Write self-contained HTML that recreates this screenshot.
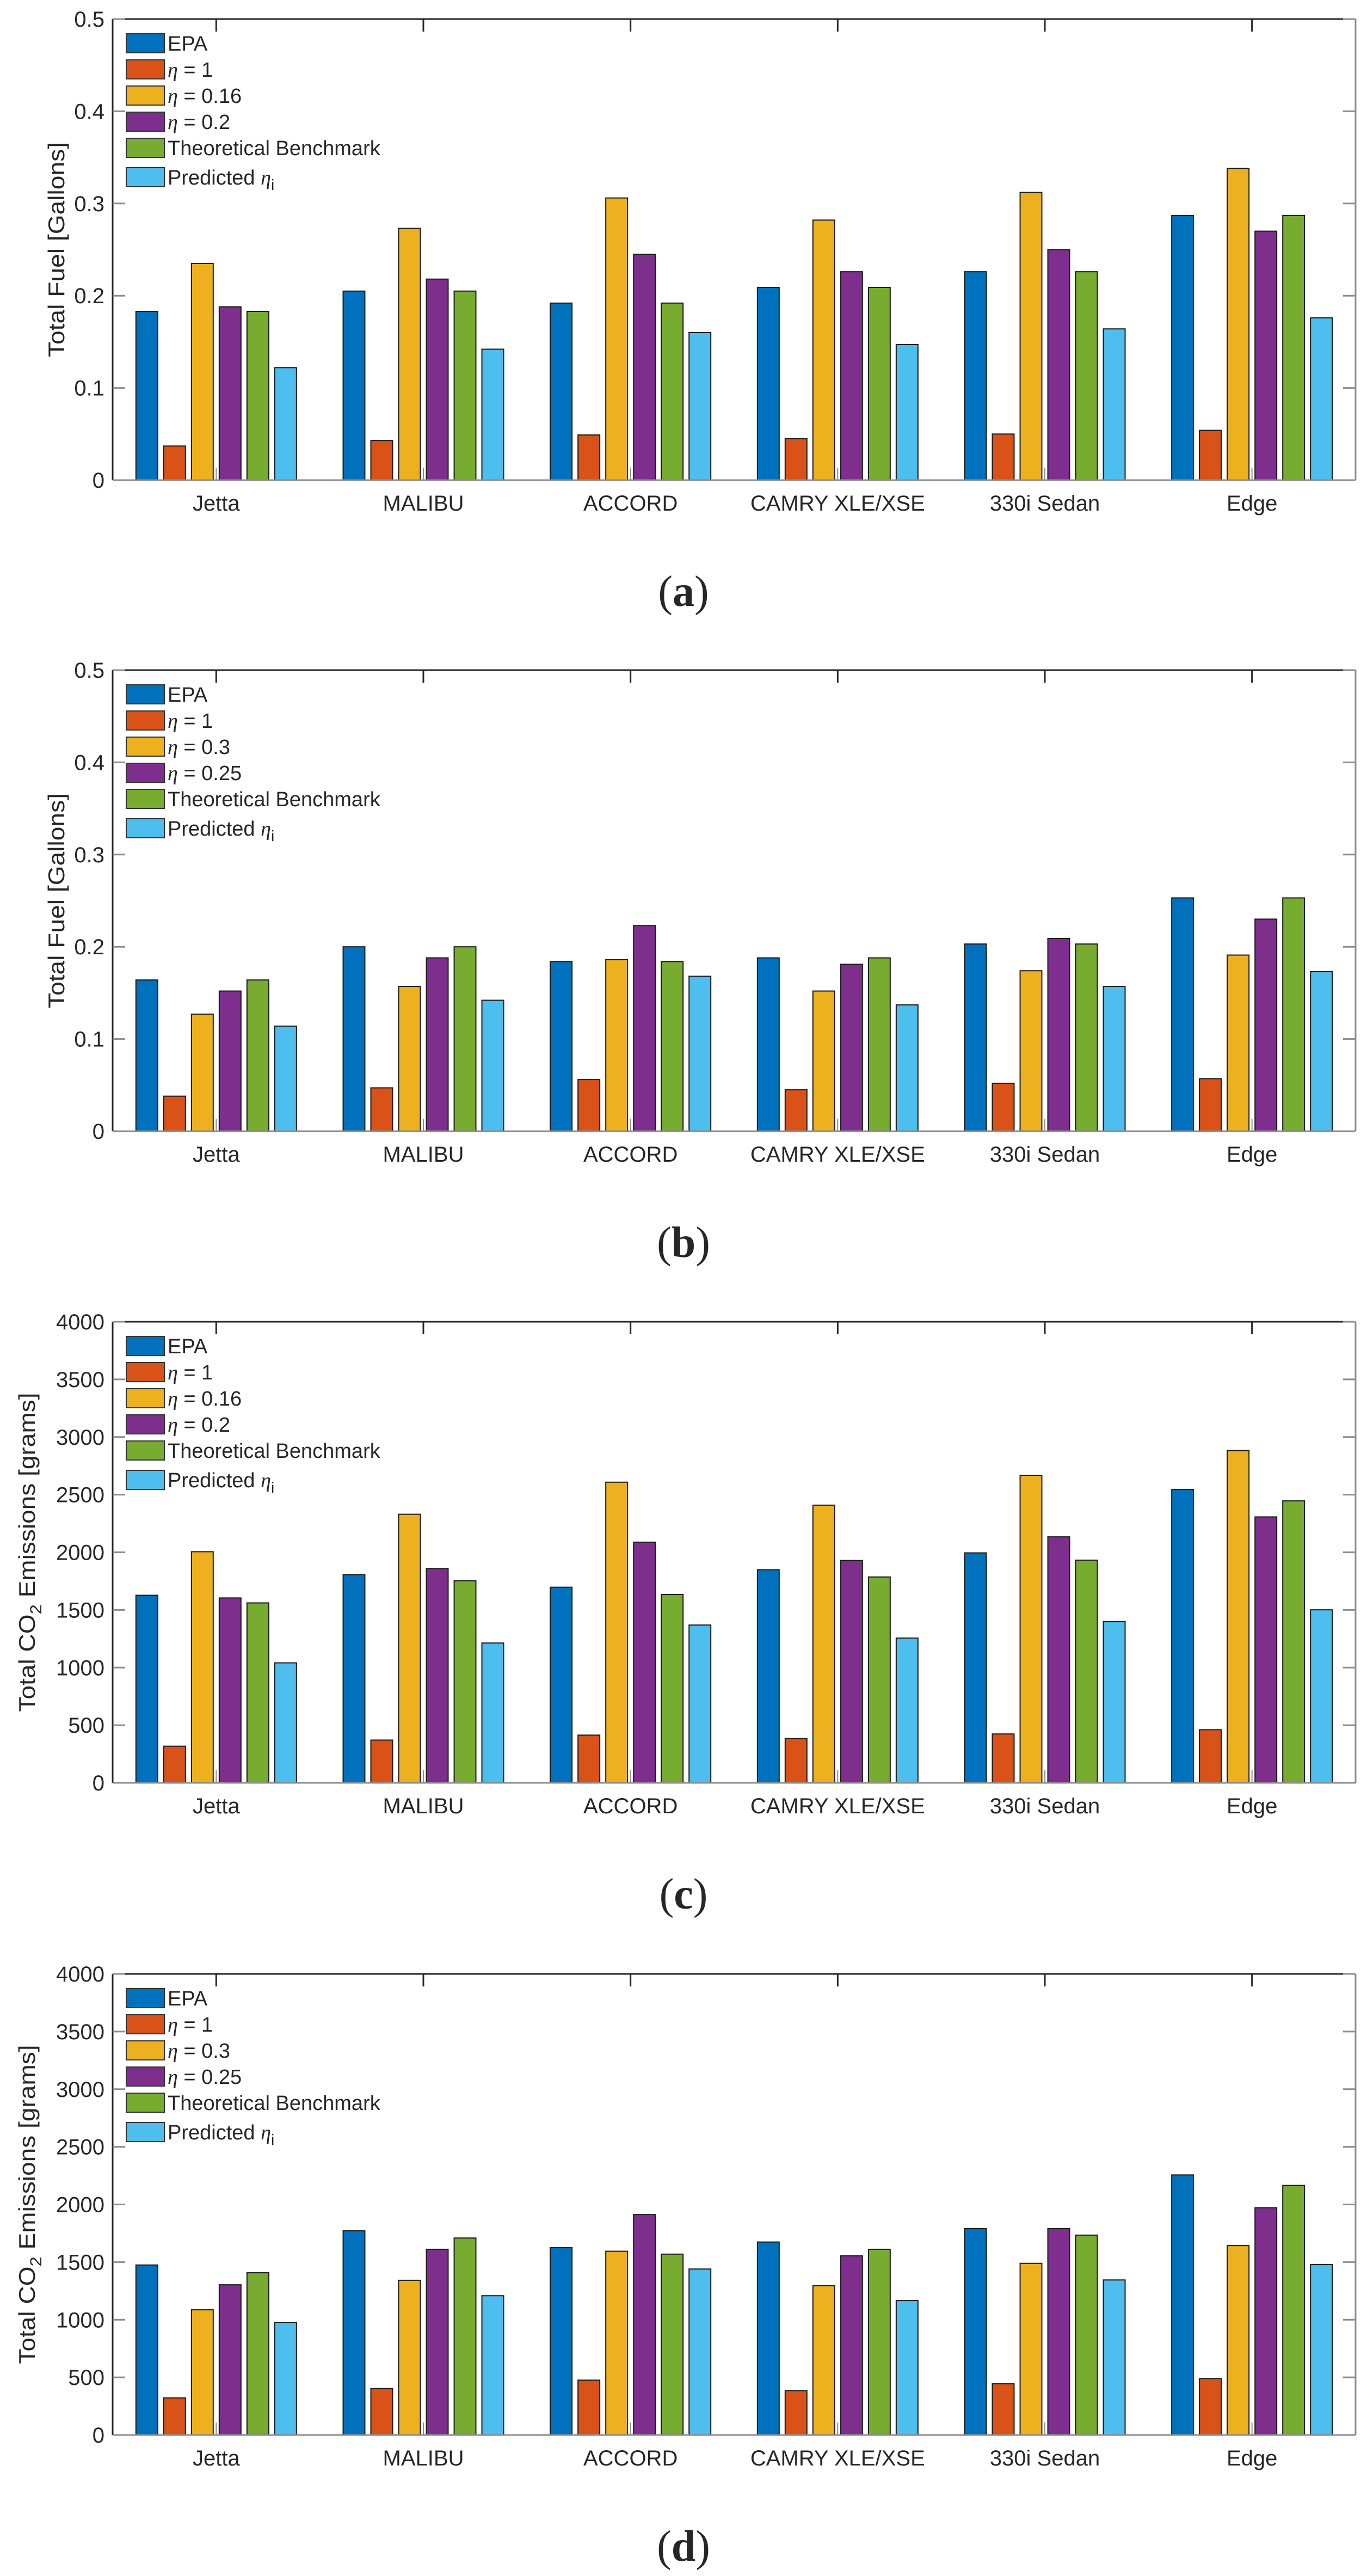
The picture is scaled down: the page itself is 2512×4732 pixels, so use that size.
<!DOCTYPE html>
<html><head><meta charset="utf-8"><style>
html,body{margin:0;padding:0;background:#fff;}
svg{display:block;}
text{font-family:"Liberation Sans",Arial,sans-serif;fill:#262626;}
</style></head><body>
<svg id="fig" width="2512" height="4732" viewBox="0 0 2512 4732" xmlns="http://www.w3.org/2000/svg"></svg>
<script>
const categories=["Jetta","MALIBU","ACCORD","CAMRY XLE/XSE","330i Sedan","Edge"];
const fuelTicks=["0","0.1","0.2","0.3","0.4","0.5"];
const fuelTickValues=[0,0.1,0.2,0.3,0.4,0.5];
const co2Ticks=["0","500","1000","1500","2000","2500","3000","3500","4000"];
const co2TickValues=[0,500,1000,1500,2000,2500,3000,3500,4000];

const aEPA=[0.183,0.205,0.192,0.209,0.226,0.287];
const aEta1=[0.037,0.043,0.049,0.045,0.050,0.054];
const aEta016=[0.235,0.273,0.306,0.282,0.312,0.338];
const aEta02=[0.188,0.218,0.245,0.226,0.250,0.270];
const aBench=[0.183,0.205,0.192,0.209,0.226,0.287];
const aPred=[0.122,0.142,0.160,0.147,0.164,0.176];

const bEPA=[0.164,0.200,0.184,0.188,0.203,0.253];
const bEta1=[0.038,0.047,0.056,0.045,0.052,0.057];
const bEta03=[0.127,0.157,0.186,0.152,0.174,0.191];
const bEta025=[0.152,0.188,0.223,0.181,0.209,0.230];
const bBench=[0.164,0.200,0.184,0.188,0.203,0.253];
const bPred=[0.114,0.142,0.168,0.137,0.157,0.173];

const cEPA=[1627,1806,1697,1849,1995,2545];
const cEta1=[318,371,414,384,424,461];
const cEta016=[2005,2330,2608,2409,2668,2883];
const cEta02=[1604,1859,2088,1929,2134,2307];
const cBench=[1561,1753,1634,1786,1932,2446];
const cPred=[1041,1213,1369,1256,1398,1501];

const dEPA=[1475,1772,1625,1674,1790,2256];
const dEta1=[322,403,476,385,445,490];
const dEta03=[1086,1342,1594,1296,1489,1643];
const dEta025=[1303,1611,1912,1555,1790,1972];
const dBench=[1408,1709,1569,1611,1734,2165];
const dPred=[977,1208,1440,1166,1345,1478];

const colors=["#0072BD","#D95319","#EDB120","#7E2F8E","#77AC30","#4DBEEE"];
const NS="http://www.w3.org/2000/svg";
const svg=document.getElementById('fig');
function mk(tag,attrs,parent){const e=document.createElementNS(NS,tag);for(const k in attrs)e.setAttribute(k,attrs[k]);(parent||svg).appendChild(e);return e;}

const L=207,R=2491,H=847;
function xScale(u){return L+(u-0.5)*(R-L)/6;}

function drawChart(cfg){
  const top=cfg.top, zero=top+H;
  const g=mk('g',{});
  
  
  const yScale=v=>zero-v/cfg.ymax*H;
  cfg.series.forEach((s,si)=>{
    s.forEach((v,ci)=>{
      const cx=xScale(ci+1+(si-2.5)*0.134);
      const w=0.105*(R-L)/6;
      const r=mk('rect',{x:cx-w/2,y:yScale(v),width:w,height:zero-yScale(v),fill:colors[si],stroke:"#1a1a1a","stroke-width":2},g);
      
      
    });
  });
  mk('line',{x1:L,y1:top,x2:R,y2:top,stroke:"#262626","stroke-width":3},g);
  mk('line',{x1:L,y1:top,x2:L,y2:zero,stroke:"#262626","stroke-width":3},g);
  mk('line',{x1:L,y1:zero,x2:R,y2:zero,stroke:"#8c8c8c","stroke-width":3},g);
  mk('line',{x1:R,y1:top,x2:R,y2:zero,stroke:"#8c8c8c","stroke-width":3},g);
  cfg.tickValues.forEach((tv,i)=>{
    const y=yScale(tv);
    mk('line',{x1:L,y1:y,x2:L+23,y2:y,stroke:"#8c8c8c","stroke-width":3},g);
    mk('line',{x1:R,y1:y,x2:R-23,y2:y,stroke:"#8c8c8c","stroke-width":3},g);
    const t=mk('text',{x:192,y:y+14,"text-anchor":"end","font-size":40},g);
    t.textContent=cfg.ticks[i];
    
    
  });
  categories.forEach((c,i)=>{
    const x=xScale(i+1);
    mk('line',{x1:x,y1:top,x2:x,y2:top+23,stroke:"#262626","stroke-width":3},g);
    mk('line',{x1:x,y1:zero,x2:x,y2:zero-23,stroke:"#8c8c8c","stroke-width":2},g);
    const t=mk('text',{x:x,y:zero+56,"text-anchor":"middle","font-size":40},g);
    t.textContent=c;
    
    
  });
  const yt=mk('text',{x:0,y:0,"text-anchor":"middle","font-size":42,transform:`translate(${cfg.titleX},${top+H/2}) rotate(-90)`,textLength:cfg.titleLen,lengthAdjust:"spacingAndGlyphs"},g);
  
  
  if(cfg.co2){
    yt.innerHTML='Total CO<tspan font-size="30" dy="12">2</tspan><tspan dy="-12"> Emissions [grams]</tspan>';
  } else yt.textContent='Total Fuel [Gallons]';
  const lg=mk('g',{},g);
  
  
  cfg.labels.forEach((lab,i)=>{
    const y=top+27+i*48+(i===5?6:0);
    const sw=mk('rect',{x:232,y:y,width:70,height:35,fill:colors[i],stroke:"#333","stroke-width":2},lg);
    
    
    const t=mk('text',{x:308,y:y+31,"font-size":38,fill:"#000"},lg);
    
    
    t.innerHTML=lab;
  });
  const cap=mk('text',{x:1256,y:top+1078,"text-anchor":"middle","font-size":80,style:'font-family:"Liberation Serif",serif',fill:"#000"},svg);
  
  
  cap.innerHTML='(<tspan font-weight="bold">'+cfg.key+'</tspan>)';
}
const eta='<tspan font-family="Liberation Serif" font-style="italic">η</tspan>';
const pred='Predicted '+eta+'<tspan font-size="28" dy="10">i</tspan>';
drawChart({key:'a',name:'chart-a',top:35,ymax:0.5,ticks:fuelTicks,tickValues:fuelTickValues,titleLen:395,titleX:118,
  series:[aEPA,aEta1,aEta016,aEta02,aBench,aPred],seriesKeys:['epa','eta1','eta016','eta02','bench','pred'],
  labels:['EPA',eta+' = 1',eta+' = 0.16',eta+' = 0.2','Theoretical Benchmark',pred]});
drawChart({key:'b',name:'chart-b',top:1231,ymax:0.5,ticks:fuelTicks,tickValues:fuelTickValues,titleLen:395,titleX:118,
  series:[bEPA,bEta1,bEta03,bEta025,bBench,bPred],seriesKeys:['epa','eta1','eta03','eta025','bench','pred'],
  labels:['EPA',eta+' = 1',eta+' = 0.3',eta+' = 0.25','Theoretical Benchmark',pred]});
drawChart({key:'c',name:'chart-c',top:2428,ymax:4000,ticks:co2Ticks,tickValues:co2TickValues,titleLen:586,titleX:64,co2:true,
  series:[cEPA,cEta1,cEta016,cEta02,cBench,cPred],seriesKeys:['epa','eta1','eta016','eta02','bench','pred'],
  labels:['EPA',eta+' = 1',eta+' = 0.16',eta+' = 0.2','Theoretical Benchmark',pred]});
drawChart({key:'d',name:'chart-d',top:3626,ymax:4000,ticks:co2Ticks,tickValues:co2TickValues,titleLen:586,titleX:64,co2:true,
  series:[dEPA,dEta1,dEta03,dEta025,dBench,dPred],seriesKeys:['epa','eta1','eta03','eta025','bench','pred'],
  labels:['EPA',eta+' = 1',eta+' = 0.3',eta+' = 0.25','Theoretical Benchmark',pred]});
</script>
</body></html>
